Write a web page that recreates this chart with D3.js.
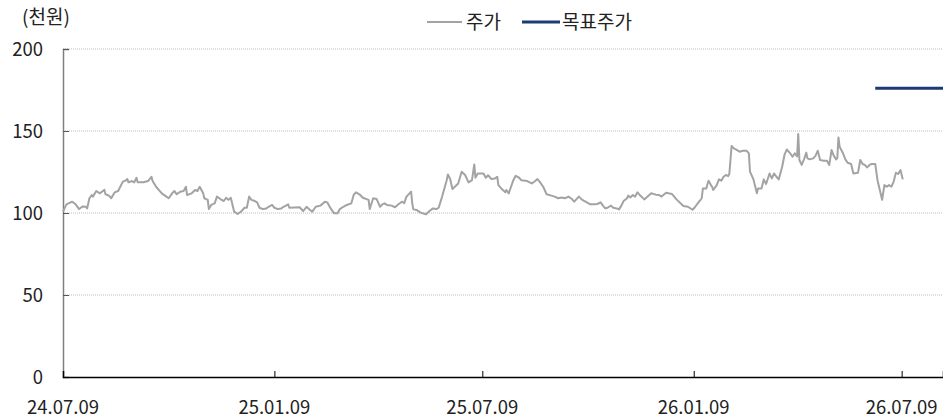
<!DOCTYPE html>
<html>
<head>
<meta charset="utf-8">
<script src="https://cdn.jsdelivr.net/npm/d3@7"></script>
<style>
  html, body { margin: 0; padding: 0; background: #fff; }
  svg { display: block; font-family: "Noto Sans CJK KR", "Noto Sans", sans-serif; }
</style>
</head>
<body>
<svg id="chart" width="943" height="420"></svg>
<script>
// Price history (thousand KRW): trading days counted from the start date
const startDate = "2024-07-09";
const endDate = "2026-08-14";
const dayOffsets = [
  0, 3, 8, 11, 14, 17, 20, 21, 23, 25, 26, 29, 32, 34, 36, 37, 40, 42, 45, 48,
  52, 55, 56, 57, 60, 62, 64, 65, 70, 74, 77, 78, 81, 86, 90, 92, 95, 97, 99, 102,
  105, 107, 108, 112, 115, 117, 119, 122, 123, 126, 127, 129, 132, 134, 137, 140, 142, 144, 146, 147,
  149, 152, 155, 158, 160, 162, 164, 167, 169, 171, 174, 177, 179, 182, 184, 187, 190, 192, 196, 197,
  206, 209, 212, 215, 217, 220, 224, 228, 230, 233, 236, 239, 241, 244, 247, 251, 253, 255, 258, 261,
  266, 267, 270, 273, 274, 276, 278, 280, 282, 286, 289, 292, 295, 297, 299, 303, 304, 305, 308, 311,
  313, 316, 319, 322, 325, 327, 330, 334, 335, 337, 339, 342, 344, 347, 350, 353, 356, 358, 359, 361,
  366, 368, 370, 373, 376, 378, 379, 382, 385, 386, 388, 390, 392, 394, 397, 399, 404, 408, 411, 413,
  415, 418, 421, 425, 428, 431, 434, 437, 440, 443, 445, 449, 452, 456, 459, 463, 465, 468, 470, 472,
  474, 477, 479, 482, 484, 486, 488, 491, 492, 494, 496, 498, 500, 502, 506, 512, 516, 519, 521, 525,
  530, 534, 540, 544, 548, 550, 553, 556, 557, 560, 561, 562, 564, 565, 566, 569, 571, 573, 575, 577,
  579, 580, 582, 584, 586, 589, 592, 595, 597, 598, 601, 604, 605, 608, 610, 612, 615, 617, 619, 621,
  623, 626, 628, 630, 633, 635, 637, 639, 640, 641, 643, 645, 647, 648, 650, 653, 655, 657, 659, 662,
  665, 667, 669, 671, 673, 674, 675, 676, 679, 681, 683, 686, 688, 692, 694, 696, 698, 700, 702, 704,
  707, 709, 711, 713, 715, 717, 719, 721, 723, 725, 727, 729, 731
];
const prices = [
  100.8, 105.3, 106.9, 105.3, 102.4, 104.0, 103.8, 102.8, 109.0, 111.0, 110.0, 113.4, 112.0, 113.0, 114.2, 111.4, 110.6, 109.0, 112.6, 113.4,
  119.0, 120.0, 120.7, 118.7, 119.5, 118.7, 121.5, 118.7, 118.7, 119.5, 122.1, 119.5, 116.0, 112.0, 110.0, 109.0, 112.0, 113.4, 111.4, 113.0,
  113.4, 116.0, 111.0, 112.0, 114.0, 113.4, 116.0, 112.0, 109.0, 108.0, 102.4, 104.9, 105.9, 110.0, 108.5, 107.3, 109.3, 108.0, 109.3, 106.5,
  100.8, 99.4, 100.8, 103.2, 103.2, 110.0, 108.0, 107.3, 106.5, 103.2, 102.4, 102.8, 103.8, 104.9, 103.2, 102.4, 102.8, 103.8, 105.3, 103.2,
  103.5, 101.2, 103.8, 101.8, 100.8, 103.8, 104.5, 106.9, 106.5, 102.8, 99.8, 99.8, 102.4, 103.8, 104.9, 105.9, 111.0, 112.6, 111.4, 109.3,
  108.0, 102.4, 109.0, 108.5, 106.9, 103.8, 105.3, 105.9, 104.9, 104.5, 103.5, 105.3, 106.9, 106.0, 110.0, 113.0, 105.9, 102.2, 101.8, 100.4,
  99.8, 99.2, 101.2, 102.8, 102.4, 103.2, 110.0, 120.0, 123.5, 120.7, 114.6, 116.6, 118.0, 125.2, 123.2, 118.7, 120.0, 129.6, 121.5, 124.1,
  124.1, 121.5, 123.0, 120.7, 121.1, 122.1, 117.0, 114.6, 112.6, 114.0, 112.0, 116.0, 120.0, 122.7, 121.5, 120.0, 119.5, 118.0, 119.5, 120.7,
  119.0, 116.0, 111.4, 110.6, 110.0, 109.0, 109.5, 109.0, 110.0, 108.5, 106.9, 110.0, 108.0, 106.5, 105.3, 105.3, 105.5, 106.5, 104.5, 102.8,
  103.2, 104.5, 103.2, 102.8, 102.2, 104.5, 107.3, 109.0, 110.6, 109.5, 111.0, 110.0, 112.6, 111.0, 108.3, 112.0, 111.2, 111.0, 110.0, 112.4,
  111.6, 108.3, 104.3, 103.8, 102.0, 103.5, 106.3, 109.0, 115.0, 115.0, 117.7, 119.7, 117.0, 116.0, 114.0, 117.0, 120.5, 119.7, 122.1, 123.2,
  122.5, 123.8, 140.9, 139.4, 138.7, 137.4, 138.0, 138.0, 136.4, 125.2, 120.5, 112.0, 115.0, 115.0, 120.5, 117.7, 124.1, 121.1, 124.1, 122.1,
  120.5, 128.2, 135.4, 138.7, 136.4, 134.3, 136.4, 134.5, 148.2, 132.3, 129.3, 132.7, 136.8, 133.3, 132.7, 133.3, 134.8, 138.0, 132.3, 131.9,
  131.9, 129.3, 138.4, 134.8, 132.7, 133.5, 146.1, 140.4, 136.4, 132.7, 130.6, 129.9, 124.1, 124.5, 132.3, 129.9, 129.3, 127.8, 129.3, 129.9,
  129.9, 120.0, 114.0, 108.0, 117.0, 116.0, 117.0, 116.0, 119.0, 124.5, 123.8, 126.2, 120.5
];

// Target price (thousand KRW) and the day it was set
const targetPrice = 176;
const targetStartOffset = 707;

const yTicks = [0, 50, 100, 150, 200];
const xTickDates = ["2024-07-09", "2025-01-09", "2025-07-09", "2026-01-09", "2026-07-09"];

const unitLabel = "(천원)";
const seriesNames = ["주가", "목표주가"];

const colors = { price: "#a3a3a3", target: "#1b3a76", grid: "#bdbdbd", yAxis: "#7f7f7f", text: "#222" };

const parse = d3.timeParse("%Y-%m-%d");
const fmt = d3.timeFormat("%y.%m.%d");
const t0 = parse(startDate);
const t1 = parse(endDate);

const priceData = dayOffsets.map((d, i) => ({ date: d3.timeDay.offset(t0, d), value: prices[i] }));
const targetData = [
  { date: d3.timeDay.offset(t0, targetStartOffset), value: targetPrice },
  { date: t1, value: targetPrice }
];

const margin = { left: 63, right: 0, top: 49, bottom: 43 };
const W = 943, H = 420;
const numSize = 18.5, krSize = 19;

const svg = d3.select("#chart");

const x = d3.scaleTime().domain([t0, t1]).range([margin.left, W - margin.right]);
const y = d3.scaleLinear().domain([0, 200]).range([H - margin.bottom, margin.top]);

// Horizontal dotted gridlines
svg.append("g")
  .selectAll("line")
  .data(yTicks.filter(v => v > 0))
  .join("line")
  .attr("x1", margin.left).attr("x2", W)
  .attr("y1", d => y(d)).attr("y2", d => y(d))
  .attr("stroke", colors.grid)
  .attr("stroke-width", 1)
  .attr("stroke-dasharray", "1,1");

// Y axis
const yAxis = svg.append("g")
  .attr("transform", `translate(${margin.left},0)`)
  .call(d3.axisRight(y).tickValues(yTicks).tickSize(6).tickFormat(""));
yAxis.select(".domain").attr("stroke", colors.yAxis).attr("stroke-width", 1.5);
yAxis.selectAll(".tick line").attr("stroke", "#555").attr("stroke-width", 1);

svg.append("g")
  .selectAll("text")
  .data(yTicks)
  .join("text")
  .attr("x", 43)
  .attr("y", d => y(d))
  .attr("dy", "0.36em")
  .attr("text-anchor", "end")
  .attr("font-size", numSize)
  .attr("fill", colors.text)
  .text(d => d);

// X axis
const xAxis = svg.append("g")
  .attr("transform", `translate(0,${y(0)})`)
  .call(d3.axisTop(x).tickValues(xTickDates.map(parse)).tickSize(6).tickFormat(""));
xAxis.select(".domain").attr("stroke", "#000").attr("stroke-width", 1.5);
xAxis.selectAll(".tick line").attr("stroke", "#000").attr("stroke-width", 1);

svg.append("g")
  .selectAll("text")
  .data(xTickDates.map(parse))
  .join("text")
  .attr("x", d => x(d))
  .attr("y", 414)
  .attr("text-anchor", "middle")
  .attr("font-size", numSize)
  .attr("fill", colors.text)
  .text(d => fmt(d));

// Price line
const line = d3.line().x(d => x(d.date)).y(d => y(d.value));
svg.append("path")
  .datum(priceData)
  .attr("fill", "none")
  .attr("stroke", colors.price)
  .attr("stroke-width", 2)
  .attr("stroke-linejoin", "round")
  .attr("d", line);

// Target price line
svg.append("path")
  .datum(targetData)
  .attr("fill", "none")
  .attr("stroke", colors.target)
  .attr("stroke-width", 3)
  .attr("d", line);

// Unit label
svg.append("text")
  .attr("x", 22).attr("y", 24)
  .attr("font-size", krSize)
  .attr("fill", colors.text)
  .text(unitLabel);

// Legend
const legend = svg.append("g");
legend.append("line")
  .attr("x1", 427).attr("x2", 462).attr("y1", 22).attr("y2", 22)
  .attr("stroke", colors.price).attr("stroke-width", 2);
legend.append("text")
  .attr("x", 466).attr("y", 29).attr("font-size", krSize).attr("fill", colors.text)
  .text(seriesNames[0]);
legend.append("line")
  .attr("x1", 522).attr("x2", 560).attr("y1", 22).attr("y2", 22)
  .attr("stroke", colors.target).attr("stroke-width", 3);
legend.append("text")
  .attr("x", 562).attr("y", 29).attr("font-size", krSize).attr("fill", colors.text)
  .text(seriesNames[1]);
</script>
</body>
</html>
